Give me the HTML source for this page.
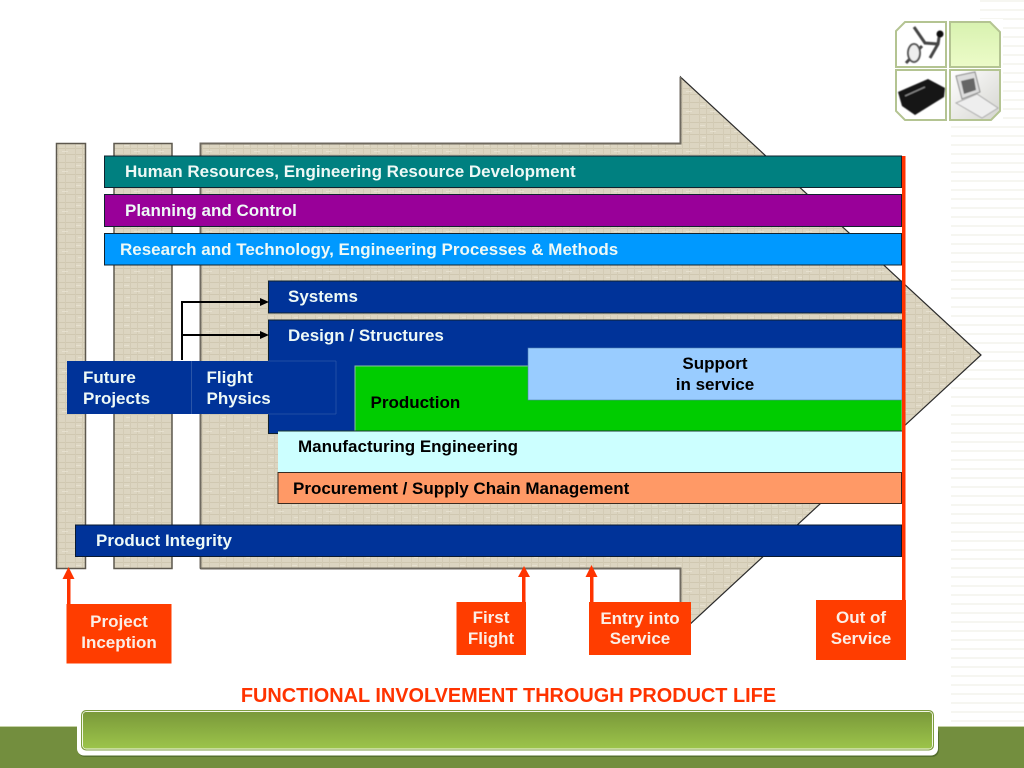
<!DOCTYPE html>
<html>
<head>
<meta charset="utf-8">
<style>
html,body{margin:0;padding:0;background:#fff;}
body{width:1024px;height:768px;overflow:hidden;position:relative;}
svg{position:absolute;left:0;top:0;}
text{font-family:"Liberation Sans",Arial,sans-serif;font-weight:bold;font-size:17px;}
</style>
</head>
<body>
<svg width="1024" height="768" viewBox="0 0 1024 768" xmlns="http://www.w3.org/2000/svg">
<defs>
<pattern id="tex" width="24" height="20" patternUnits="userSpaceOnUse">
<rect width="24" height="20" fill="#dcd5c1"/>
<path d="M0 2.500H24M0 8.500H24M0 14.500H24" stroke="#d0c8b1" stroke-width="1"/>
<path d="M3.500 0V20M10.500 0V20M17.500 0V20" stroke="#d3cbb5" stroke-width="1"/>
<path d="M4 5.500h5M14 11.500h6M6 17.500h4" stroke="#e6e0cf" stroke-width="1"/>
</pattern>
<pattern id="stripe" width="10" height="9" patternUnits="userSpaceOnUse">
<rect width="10" height="9" fill="#fff"/>
<rect y="0" width="10" height="2" fill="#f6f6f1"/>
</pattern>
<linearGradient id="bar" x1="0" y1="0" x2="0" y2="1">
<stop offset="0" stop-color="#7a993a"/>
<stop offset="1" stop-color="#9cc44a"/>
</linearGradient>
<linearGradient id="lt" x1="0" y1="0" x2="0" y2="1">
<stop offset="0" stop-color="#d8f2b0"/>
<stop offset="1" stop-color="#ecfbc8"/>
</linearGradient>
<linearGradient id="grayg" x1="0" y1="0" x2="1" y2="1">
<stop offset="0" stop-color="#fff"/>
<stop offset="1" stop-color="#d5d5d0"/>
</linearGradient>
<filter id="soft" x="-10%" y="-10%" width="120%" height="120%"><feGaussianBlur stdDeviation="0.600"/></filter>
</defs>

<!-- background -->
<rect x="951" y="0" width="73" height="727" fill="url(#stripe)"/>
<rect x="880" y="0" width="100" height="22" fill="#fff"/>
<rect x="0" y="727" width="1024" height="41" fill="#738e3e"/>
<rect x="0" y="726" width="78" height="1" fill="#c5d2a5"/>
<rect x="938" y="726" width="86" height="1" fill="#c5d2a5"/>

<!-- icon tile -->
<rect x="893" y="19" width="110" height="105" fill="#fff"/>
<path d="M905 22H946V67H896V31Z" fill="#fff" stroke="#b4c492" stroke-width="2"/>
<path d="M950 22H990L1000 32V67H950Z" fill="url(#lt)" stroke="#b4c492" stroke-width="2"/>
<path d="M896 70H946V120H905L896 111Z" fill="#fff" stroke="#b4c492" stroke-width="2"/>
<path d="M950 70H1000V111L991 120H950Z" fill="url(#grayg)" stroke="#b4c492" stroke-width="2"/>
<g filter="url(#soft)">
<path d="M914 27L925 43L938 44M940 31L938 44L930 58M906 63L922 46" stroke="#444" stroke-width="3" fill="none"/>
<ellipse cx="914" cy="53" rx="6" ry="9" fill="#eee" stroke="#555" stroke-width="2"/>
<circle cx="940" cy="34" r="3.500" fill="#111"/>
<path d="M898 92L928 79L945 88L944 97L915 115L902 106Z" fill="#151515"/>
<path d="M905 96L925 87" stroke="#888" stroke-width="1.500"/>
<path d="M956 76L975 72L980 92L962 99Z" fill="#ddd" stroke="#888"/>
<path d="M961 81L974 78L976 90L964 94Z" fill="#666"/>
<path d="M956 103L977 94L998 108L982 118Z" fill="#eee" stroke="#aaa"/>
</g>

<!-- big arrow -->
<polygon points="200.500,143.500 680.500,143.500 680.500,77 981,355 680.500,633 680.500,568.500 200.500,568.500" fill="url(#tex)" stroke="#2b2b2b" stroke-width="1.200"/>
<path d="M200.500 568.500V143.500H680.500V77M680.500 633V568.500H200.500" fill="none" stroke="#6f6a60" stroke-width="2"/>
<!-- columns -->
<rect x="56.500" y="143.500" width="29" height="425" fill="url(#tex)" stroke="#5d584e" stroke-width="1.500"/>
<rect x="114" y="143.500" width="58" height="425" fill="url(#tex)" stroke="#5d584e" stroke-width="1.500"/>

<!-- bars -->
<g stroke="#10222e" stroke-width="1">
<rect x="104.500" y="156" width="797" height="31.500" fill="#008080"/>
<rect x="104.500" y="194.500" width="797" height="32" fill="#990099"/>
<rect x="104.500" y="233.500" width="797" height="31.500" fill="#0099ff"/>
<rect x="268.500" y="281" width="633.500" height="32" fill="#003399"/>
<rect x="268.500" y="320" width="633.500" height="113.500" fill="#003399"/>
</g>
<rect x="355" y="366" width="547" height="66" fill="#00cc00" stroke="#8cc0a0" stroke-width="1"/>
<rect x="528" y="348" width="374" height="52" fill="#99ccff" stroke="#5080b0" stroke-width="0.600"/>
<rect x="278" y="431" width="624" height="41.500" fill="#ccffff"/>
<path d="M278 431H902" stroke="#1a3a30" stroke-width="1"/>
<rect x="278" y="472.500" width="623.500" height="31" fill="#ff9966" stroke="#3a2a20" stroke-width="1"/>
<rect x="75.500" y="525" width="826" height="31.500" fill="#003399" stroke="#0a1a30" stroke-width="1"/>

<!-- future projects -->
<rect x="67" y="361" width="269" height="53" fill="#003399"/>
<path d="M191.500 361V414" stroke="#2a55a8" stroke-width="1"/>
<path d="M336 361V414M268 361H336M268 414H336" stroke="#2a55a8" stroke-width="0.800" fill="none"/>

<!-- black connectors -->
<path d="M182 360V302H262M182 335H262" fill="none" stroke="#000" stroke-width="2"/>
<polygon points="269,302 260,298 260,306" fill="#000"/>
<polygon points="269,335 260,331 260,339" fill="#000"/>

<!-- red line and arrows -->
<rect x="902" y="156" width="3.500" height="446" fill="#ff3300"/>
<rect x="67" y="575" width="3.500" height="32" fill="#ff3300"/>
<polygon points="68.500,567 62.500,579 74.500,579" fill="#ff3300"/>
<rect x="522" y="575" width="3.500" height="32" fill="#ff3300"/>
<polygon points="524,566 518,577 530,577" fill="#ff3300"/>
<rect x="590" y="575" width="3.500" height="32" fill="#ff3300"/>
<polygon points="591.500,565 585.500,577 597.500,577" fill="#ff3300"/>

<!-- orange boxes -->
<rect x="66.500" y="604" width="105" height="59.500" fill="#ff3d00"/>
<rect x="456.500" y="602" width="69.500" height="53" fill="#ff3d00"/>
<rect x="589" y="602" width="102" height="53" fill="#ff3d00"/>
<rect x="816" y="600" width="90" height="60" fill="#ff3d00"/>

<!-- bar labels -->
<g fill="#eef9f6">
<text x="125" y="177">Human Resources, Engineering Resource Development</text>
<text x="125" y="216">Planning and Control</text>
<text x="120" y="255">Research and Technology, Engineering Processes &amp; Methods</text>
<text x="288" y="302">Systems</text>
<text x="288" y="341">Design / Structures</text>
<text x="83" y="383">Future</text>
<text x="83" y="404">Projects</text>
<text x="206.500" y="383">Flight</text>
<text x="206.500" y="404">Physics</text>
<text x="96" y="546">Product Integrity</text>
</g>
<g fill="#000">
<text x="715" y="369" text-anchor="middle">Support</text>
<text x="715" y="390" text-anchor="middle">in service</text>
<text x="370.500" y="408">Production</text>
<text x="298" y="452">Manufacturing Engineering</text>
<text x="293" y="494">Procurement / Supply Chain Management</text>
</g>
<g fill="#fbeee6" text-anchor="middle">
<text x="119" y="627">Project</text>
<text x="119" y="648">Inception</text>
<text x="491" y="623">First</text>
<text x="491" y="644">Flight</text>
<text x="640" y="624">Entry into</text>
<text x="640" y="644">Service</text>
<text x="861" y="623">Out of</text>
<text x="861" y="644">Service</text>
</g>

<!-- title -->
<text x="508.500" y="702" text-anchor="middle" fill="#ff3300" style="font-size:19.900px">FUNCTIONAL INVOLVEMENT THROUGH PRODUCT LIFE</text>

<!-- footer bar -->
<rect x="78" y="727" width="861" height="30" rx="7" fill="#55702e"/>
<rect x="77" y="707" width="861" height="48.500" rx="7" fill="#fff"/>
<rect x="81" y="710" width="853" height="40.500" rx="5" fill="#7d9c40"/>
<rect x="82.500" y="711.500" width="850" height="37.500" rx="4" fill="none" stroke="#f2f7e6" stroke-width="1"/>
<rect x="83" y="712" width="849" height="36.500" rx="3" fill="url(#bar)"/>
</svg>
</body>
</html>
